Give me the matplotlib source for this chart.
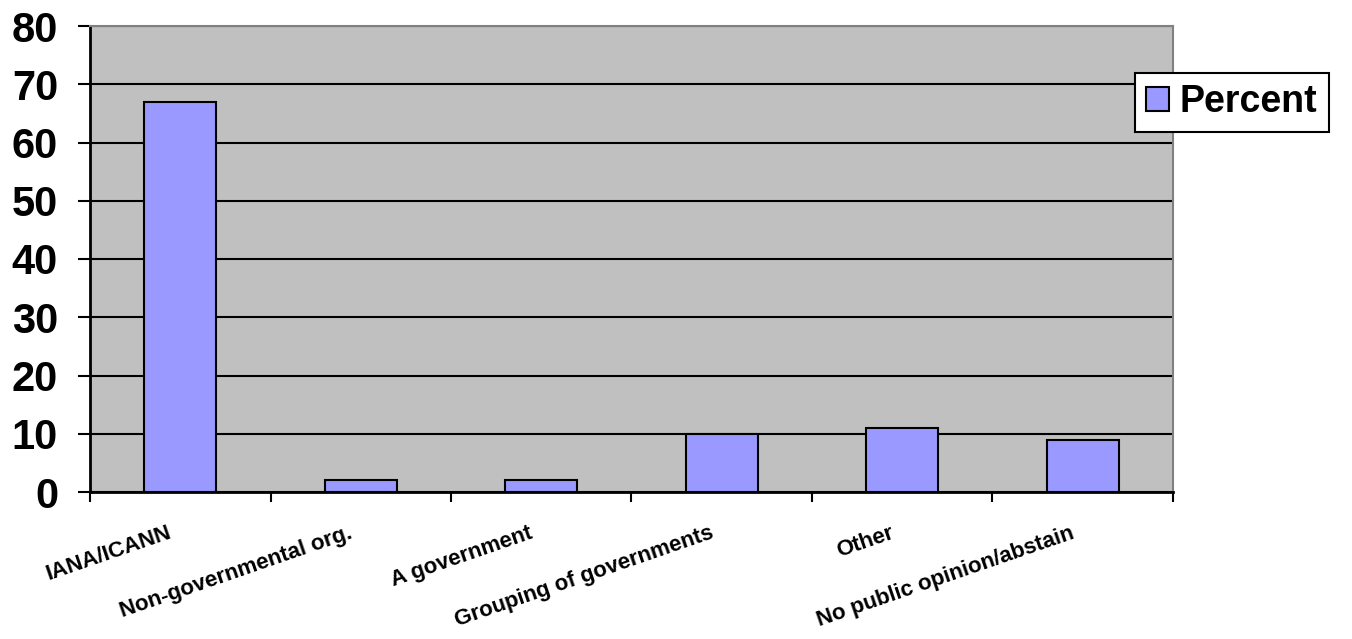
import matplotlib
matplotlib.use('Agg')
import matplotlib.pyplot as plt
import numpy as np

# Data
categories = ['IANA/ICANN', 'Non-governmental org.', 'A government',
              'Grouping of governments', 'Other', 'No public opinion/abstain']
percent = [67, 2, 2, 10, 11, 9]
y_ticks = [0, 10, 20, 30, 40, 50, 60, 70, 80]

plt.rcParams['font.family'] = ['Liberation Sans', 'DejaVu Sans']

fig = plt.figure(figsize=(13.52, 6.39), dpi=100)
ax = fig.add_axes([90 / 1352, 1 - 492 / 639, (1173 - 90) / 1352, (492 - 26) / 639])

x = np.arange(len(categories))
ax.set_facecolor('#C0C0C0')
ax.bar(x, percent, width=0.4, color='#9999FF', edgecolor='black', linewidth=1.5,
       label='Percent', zorder=3)

# axes limits and grid
ax.set_xlim(-0.5, len(categories) - 0.5)
ax.set_ylim(0, 80)
ax.set_yticks(y_ticks)
ax.set_yticklabels([str(v) for v in y_ticks], fontsize=30, fontweight='bold')
ax.yaxis.grid(True, color='black', linewidth=1.5, zorder=1)
ax.set_axisbelow(True)

# category boundary ticks
ax.set_xticks(np.arange(len(categories) + 1) - 0.5)
ax.set_xticklabels([])
ax.tick_params(axis='x', length=7, width=1.5, direction='out')
ax.tick_params(axis='y', length=9, width=1.5, direction='out', pad=14)

for side in ['left', 'bottom']:
    ax.spines[side].set_linewidth(2)
    ax.spines[side].set_color('black')
for side in ['top', 'right']:
    ax.spines[side].set_linewidth(1.5)
    ax.spines[side].set_color('#808080')

# rotated category labels, right end anchored under each category
for i, name in enumerate(categories):
    ax.annotate(name, xy=(i, 0), xycoords=('data', 'axes fraction'),
                xytext=(-9, -22), textcoords='offset points',
                rotation=19, rotation_mode='anchor', ha='right', va='top',
                fontsize=16, fontweight='bold')

leg = fig.legend(loc='upper left', bbox_to_anchor=(1135 / 1352, 1 - 73 / 639),
                 prop={'size': 27, 'weight': 'bold'}, frameon=True, fancybox=False,
                 framealpha=1, edgecolor='black', handlelength=0.6, handleheight=0.6,
                 handletextpad=0.3, borderpad=0.3, borderaxespad=0)
leg.get_frame().set_linewidth(1.5)

fig.savefig('out.png', dpi=100)
